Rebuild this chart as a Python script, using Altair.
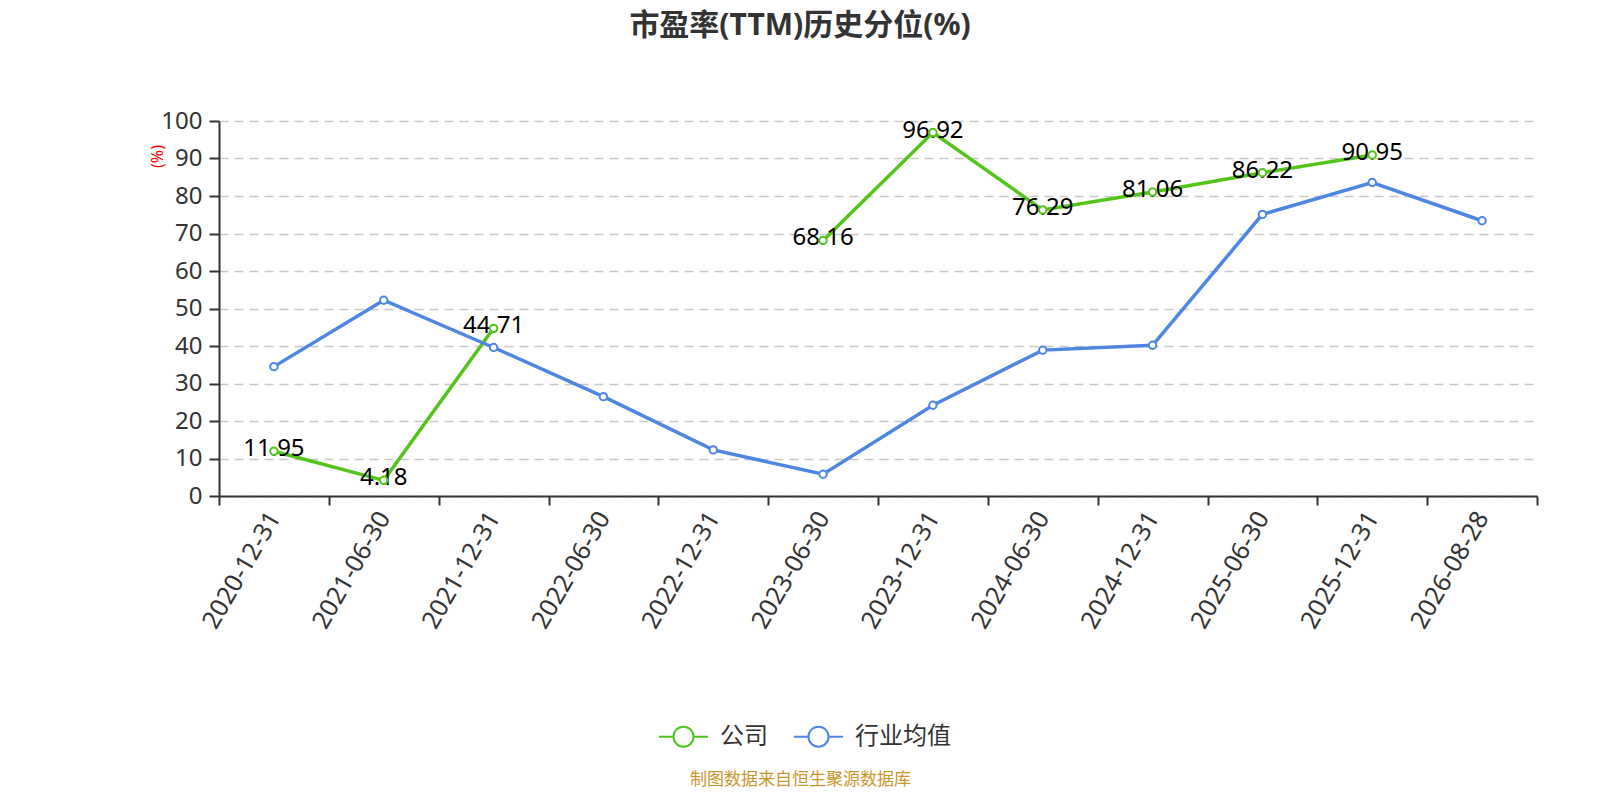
import altair as alt
import pandas as pd

dates = ["2020-12-31", "2021-06-30", "2021-12-31", "2022-06-30", "2022-12-31", "2023-06-30",
         "2023-12-31", "2024-06-30", "2024-12-31", "2025-06-30", "2025-12-31", "2026-08-28"]
company = [11.95, 4.18, 44.71, None, None, 68.16, 96.92, 76.29, 81.06, 86.22, 90.95, None]
industry = [34.5, 52.2, 39.6, 26.5, 12.3, 5.8, 24.2, 38.9, 40.2, 75.1, 83.6, 73.4]
series_names = ["公司", "行业均值"]
colors = ["#52c41a", "#4e86e4"]

rows = []
seg = 0
prev_none = True
for d, v in zip(dates, company):
    if v is None:
        prev_none = True
        continue
    if prev_none:
        seg += 1
        prev_none = False
    rows.append({"date": d, "value": v, "series": series_names[0], "seg": f"c{seg}"})
for d, v in zip(dates, industry):
    rows.append({"date": d, "value": v, "series": series_names[1], "seg": "i"})
df = pd.DataFrame(rows)

FONT = "Noto Sans, Noto Sans CJK SC"

x_axis = alt.Axis(
    title="制图数据来自恒生聚源数据库", titleX=581, titleY=283, titleAlign="center",
    titleBaseline="middle", titleFontSize=17, titleColor="#c9962c", titleFontWeight="normal",
    labelAngle=-60, labelAlign="right", labelBaseline="middle", labelFontSize=25,
    labelColor="#333333", labelPadding=8, tickBand="extent", ticks=True, tickSize=9,
    tickWidth=2, tickColor="#333333", domainColor="#333333", domainWidth=2, grid=False,
)
y_axis = alt.Axis(
    values=list(range(0, 101, 10)), grid=True, gridDash=[9, 6], gridColor="#c8c8c8",
    gridWidth=1.5, domainColor="#333333", domainWidth=2, tickColor="#333333", tickWidth=2,
    tickSize=10, labelFontSize=24, labelColor="#333333", labelPadding=7,
    title="(%)", titleColor="red", titleFontSize=16, titleFontWeight="normal",
    titleX=-62, titleY=35, titleAngle=270, titleAlign="center", titleBaseline="middle",
)
legend = alt.Legend(
    title=None, orient="none", direction="horizontal", legendX=439, legendY=590,
    symbolType="M-1,0L-0.41,0M0.41,0A0.41,0.41,0,1,1,-0.41,0A0.41,0.41,0,1,1,0.41,0M0.41,0L1,0",
    symbolSize=2401, symbolStrokeWidth=2, symbolFillColor="white",
    labelFontSize=24, labelColor="#333333", labelOffset=11, columnPadding=22,
)

base = alt.Chart(df).encode(
    x=alt.X("date:N", sort=dates,
            scale=alt.Scale(type="band", domain=dates, paddingInner=0, paddingOuter=0),
            axis=x_axis),
    y=alt.Y("value:Q", scale=alt.Scale(domain=[0, 100], nice=False), axis=y_axis),
)
color = alt.Color("series:N", scale=alt.Scale(domain=series_names, range=colors), legend=legend)

lines = base.mark_line(strokeWidth=3.5).encode(color=color, detail="seg:N")
labels = base.transform_filter(alt.datum.series == series_names[0]).mark_text(
    fontSize=24, color="black", baseline="middle", dy=-2, font=FONT
).encode(text=alt.Text("value:Q", format=".2f"))
points = base.mark_point(shape="circle", filled=False, fill="white", size=55,
                         strokeWidth=2, opacity=1).encode(color=color)

chart = alt.layer(lines, labels, points).properties(
    width=1318, height=375,
    padding={"left": 211, "top": 113, "right": 50, "bottom": 295},
    autosize=alt.AutoSizeParams(type="none"),
    title=alt.TitleParams("市盈率(TTM)历史分位(%)", fontSize=30, fontWeight="bold",
                          color="#333333", anchor="middle", dx=-78, offset=38,
                          baseline="bottom", font=FONT),
).configure(font=FONT).configure_view(stroke=None)

chart.save("out.html", embed_options={"renderer": "svg", "actions": False})
